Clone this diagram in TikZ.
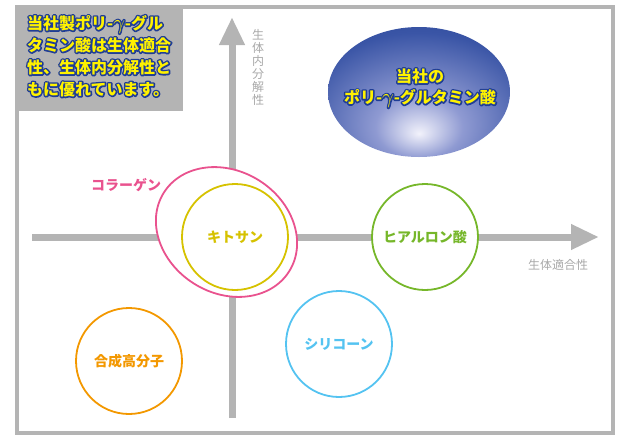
\documentclass[tikz,border=0pt]{standalone}
\usepackage{fontspec}
\setmainfont{Noto Sans CJK JP}
\usetikzlibrary{shapes.geometric,arrows.meta,positioning}
\definecolor{framegray}{HTML}{B4B4B4}
\definecolor{labelgray}{HTML}{A8A8A8}
\definecolor{textyellow}{HTML}{FFF200}
\definecolor{chitosanyellow}{HTML}{D6C200}
\definecolor{collagenpink}{HTML}{E9528E}
\definecolor{hyaluronicgreen}{HTML}{76B72A}
\definecolor{siliconeblue}{HTML}{54C3F1}
\definecolor{polymerorange}{HTML}{F39800}
\definecolor{ringcore}{HTML}{F2F2FB}
\definecolor{ringmid}{HTML}{8F9AD2}
\definecolor{ringouter}{HTML}{3A55A6}
\definecolor{ringedge}{HTML}{1E3C8C}
\pgfdeclareradialshading{productglow}{\pgfpoint{0bp}{-16bp}}{color(0bp)=(ringcore); color(12bp)=(ringmid); color(32bp)=(ringouter); color(50bp)=(ringedge); color(75bp)=(ringedge)}
% yellow text with a navy outline underneath
\newcommand{\outlined}[1]{\rlap{\special{pdf:literal direct 1 Tr 3 w 1 j 0.12 0.24 0.59 RG}#1\special{pdf:literal direct 0 Tr}}#1}
\newcommand{\gammaglyph}{{\fontsize{21}{21}\selectfont$\gamma$}}
\tikzstyle{axis} = [line width=7pt, framegray, -{Triangle[width=24pt,length=28pt]}]
\tikzstyle{axislabel} = [text=labelgray, font=\fontsize{12}{13}\selectfont, align=center, inner sep=0pt]
\tikzstyle{material} = [circle, line width=1.8pt, fill=white, minimum size=106pt, inner sep=0pt,
    font=\fontsize{14}{14}\selectfont\bfseries]
\tikzstyle{headline} = [text=textyellow, font=\fontsize{16}{22}\selectfont\bfseries, align=left,
    inner sep=0pt, anchor=north west]

\begin{document}
\begin{tikzpicture}[x=1pt, y=-1pt]
\useasboundingbox (0,0) rectangle (630,440);
% frame and note box
\draw[framegray, line width=4pt] (17,7) rectangle (613,433);
\fill[framegray] (15,5) rectangle (183,111);
\node[headline] (note) at (27,15) {\outlined{当社製ポリ-\gammaglyph-グル}\\\outlined{タミン酸は生体適合}\\\outlined{性、生体内分解性と}\\\outlined{もに優れています。}};
% axes
\coordinate (ybottom) at (232,418);
\coordinate (ytop) at (232,17);
\coordinate (xleft) at (32,237);
\coordinate (xright) at (599,237);
\draw[axis] (ybottom) -- (ytop);
\draw[axis] (xleft) -- (xright);
\node[axislabel] (ylabel) at (258,67) {生\\体\\内\\分\\解\\性};
\node[axislabel] (xlabel) at (558,265) {生体適合性};
% materials
\node[ellipse, draw=collagenpink, line width=1.8pt, fill=white, minimum width=148pt,
    minimum height=122pt, inner sep=0pt, rotate=-32] (collagenring) at (226.5,232) {};
\node[text=collagenpink, font=\fontsize{14}{14}\selectfont\bfseries] (collagen) at (126,185) {コラーゲン};
\node[material, draw=chitosanyellow, text=chitosanyellow] (chitosan) at (235,237) {キトサン};
\node[material, draw=hyaluronicgreen, text=hyaluronicgreen] (hyaluronic) at (425,237) {ヒアルロン酸};
\node[material, draw=siliconeblue, text=siliconeblue] (silicone) at (339,344) {シリコーン};
\node[material, draw=polymerorange, text=polymerorange] (polymer) at (129,361) {合成高分子};
\node[ellipse, shading=productglow, minimum width=182pt, minimum height=130pt, inner sep=0pt] (product) at (419,92) {};
\node[text=textyellow, align=center, font=\fontsize{16}{21}\selectfont\bfseries] (productlabel) at (420,88)
    {\outlined{当社の}\\\outlined{ポリ-\gammaglyph-グルタミン酸}};
\end{tikzpicture}
\end{document}
